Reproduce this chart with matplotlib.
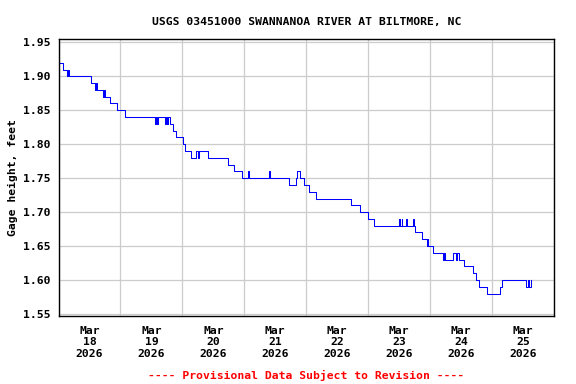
import matplotlib
matplotlib.use("Agg")
import matplotlib.pyplot as plt
import matplotlib.dates as mdates
import numpy as np
import pandas as pd

# Gage height readings (step changes), hours after 2026-03-18 00:00
hours = [0, 1.75, 3.25, 3.75, 4.0, 12.5, 14.25, 14.5, 14.75, 17.25, 17.5, 18.0,
         20.0, 22.75, 25.75, 37.5, 37.75, 38.25, 38.5, 41.25, 41.5, 42.0, 42.25,
         43.25, 44.5, 45.5, 48.25, 49.0, 51.25, 53.25, 54.0, 54.5, 58.0, 65.75,
         68.0, 71.0, 73.25, 73.75, 81.75, 82.0, 89.5, 92.0, 92.5, 93.75, 95.25,
         97.25, 99.75, 113.5, 117.0, 119.75, 122.25, 131.75, 132.0, 132.25, 132.5,
         133.0, 133.25, 134.75, 135.0, 137.5, 137.75, 138.0, 140.75, 142.75, 143.0,
         143.25, 145.25, 149.0, 149.25, 149.75, 153.0, 154.0, 154.25, 155.0, 157.0,
         160.75, 161.75, 163.0, 166.0, 171.25, 172.0, 181.25, 181.75, 182.5, 183.0,
         183.25]
gage = [1.92, 1.91, 1.90, 1.91, 1.90, 1.89, 1.88, 1.89, 1.88, 1.87, 1.88, 1.87,
        1.86, 1.85, 1.84, 1.83, 1.84, 1.83, 1.84, 1.83, 1.84, 1.83, 1.84,
        1.83, 1.82, 1.81, 1.80, 1.79, 1.78, 1.79, 1.78, 1.79, 1.78, 1.77,
        1.76, 1.75, 1.76, 1.75, 1.76, 1.75, 1.74, 1.75, 1.76, 1.75, 1.74,
        1.73, 1.72, 1.71, 1.70, 1.69, 1.68, 1.69, 1.68, 1.69, 1.68,
        1.69, 1.68, 1.69, 1.68, 1.69, 1.68, 1.67, 1.66, 1.65, 1.66,
        1.65, 1.64, 1.63, 1.64, 1.63, 1.64, 1.63, 1.64, 1.63, 1.62,
        1.61, 1.60, 1.59, 1.58, 1.59, 1.60, 1.59, 1.60, 1.59, 1.60,
        1.60]
y_ticks = [1.55, 1.60, 1.65, 1.70, 1.75, 1.80, 1.85, 1.90, 1.95]

start = pd.Timestamp("2026-03-18")
times = start + pd.to_timedelta(hours, unit="h")

font = "DejaVu Sans Mono"
fs = 8.2

fig = plt.figure(figsize=(5.76, 3.84), dpi=100)
ax = fig.add_axes([0.1016, 0.1771, 0.8602, 0.7206])

ax.plot(times, gage, drawstyle="steps-post", color="#0000ff", lw=0.75)

ax.set_xlim(start, start + pd.Timedelta(days=8))
ax.set_ylim(1.547, 1.9545)

ax.xaxis.set_major_locator(mdates.DayLocator())
ax.xaxis.set_major_formatter(plt.NullFormatter())
ax.xaxis.set_minor_locator(mdates.HourLocator(byhour=12))
ax.xaxis.set_minor_formatter(mdates.DateFormatter("%b\n%d\n%Y"))
ax.set_yticks(y_ticks)
ax.set_yticklabels(["%.2f" % v for v in y_ticks])

ax.grid(True, which="major", color="#cccccc", lw=0.9)
ax.set_axisbelow(True)
ax.tick_params(which="both", length=0)
ax.tick_params(axis="x", which="minor", pad=7)
ax.tick_params(axis="y", pad=6)
for lab in ax.get_xticklabels(minor=True) + ax.get_yticklabels():
    lab.set_fontfamily(font)
    lab.set_fontweight("bold")
    lab.set_fontsize(fs)
for s in ax.spines.values():
    s.set_linewidth(1.0)

ax.set_title("USGS 03451000 SWANNANOA RIVER AT BILTMORE, NC",
             fontfamily=font, fontweight="bold", fontsize=fs, pad=10.5)
ax.set_ylabel("Gage height, feet", fontfamily=font, fontweight="bold",
              fontsize=fs, labelpad=3.5)
fig.text(0.532, 1 - 375 / 384, "---- Provisional Data Subject to Revision ----",
         color="#ff0000", fontfamily=font, fontweight="bold", fontsize=fs,
         ha="center", va="center")

fig.savefig("out.png", dpi=100)
